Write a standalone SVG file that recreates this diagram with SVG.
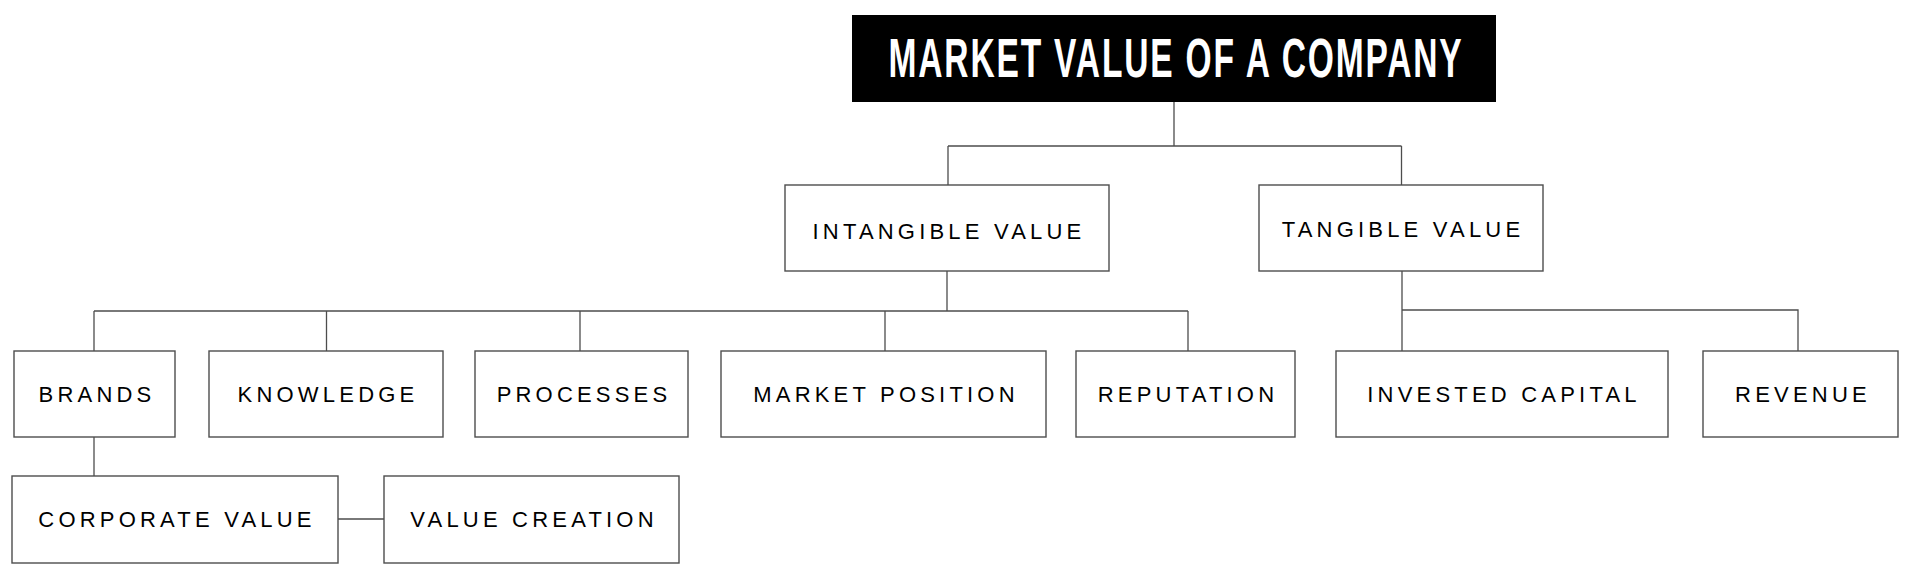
<svg xmlns="http://www.w3.org/2000/svg" width="1920" height="570" viewBox="0 0 1920 570">
<style>
.box{fill:#fff;stroke:#4d4d4d;stroke-width:1.4}
.lbl{font-family:"Liberation Sans",Arial,sans-serif;font-size:22px;letter-spacing:4.2px;fill:#000;text-anchor:middle}
.title{font-family:"Liberation Sans",Arial,sans-serif;font-weight:bold;font-size:55px;letter-spacing:3px;fill:#fff;text-anchor:middle}
.conn{fill:none;stroke:#4d4d4d;stroke-width:1.3}
</style>
<rect width="1920" height="570" fill="#fff"/>
<g id="connectors" class="conn">
<path d="M1174,102V146M948,146H1401.5M948,146V185M1401.5,146V185"/>
<path d="M947,271V311M94,311H1188M94,311V351M326.5,311V351M580,311V351M885,311V351M1188,311V351"/>
<path d="M1402,271V351M1402,310H1798V351"/>
<path d="M94,437V476"/>
<path d="M338,519H384"/>
</g>
<g id="node-title">
<rect x="852" y="15" width="644" height="87" fill="#000"/>
<text class="title" transform="translate(1176,77) scale(0.61,1)" x="0" y="0">MARKET VALUE OF A COMPANY</text>
</g>
<g id="node-intangible">
<rect class="box" x="785" y="185" width="324" height="86"/>
<text class="lbl" x="949" y="239">INTANGIBLE VALUE</text>
</g>
<g id="node-tangible">
<rect class="box" x="1259" y="185" width="284" height="86"/>
<text class="lbl" x="1403" y="237">TANGIBLE VALUE</text>
</g>
<g id="node-brands">
<rect class="box" x="14" y="351" width="161" height="86"/>
<text class="lbl" x="97" y="402">BRANDS</text>
</g>
<g id="node-knowledge">
<rect class="box" x="209" y="351" width="234" height="86"/>
<text class="lbl" x="328" y="402">KNOWLEDGE</text>
</g>
<g id="node-processes">
<rect class="box" x="475" y="351" width="213" height="86"/>
<text class="lbl" x="584" y="402">PROCESSES</text>
</g>
<g id="node-market-position">
<rect class="box" x="721" y="351" width="325" height="86"/>
<text class="lbl" x="886" y="402">MARKET POSITION</text>
</g>
<g id="node-reputation">
<rect class="box" x="1076" y="351" width="219" height="86"/>
<text class="lbl" x="1188" y="402">REPUTATION</text>
</g>
<g id="node-invested-capital">
<rect class="box" x="1336" y="351" width="332" height="86"/>
<text class="lbl" x="1504" y="402">INVESTED CAPITAL</text>
</g>
<g id="node-revenue">
<rect class="box" x="1703" y="351" width="195" height="86"/>
<text class="lbl" x="1803" y="402">REVENUE</text>
</g>
<g id="node-corporate-value">
<rect class="box" x="12" y="476" width="326" height="87"/>
<text class="lbl" x="177" y="527">CORPORATE VALUE</text>
</g>
<g id="node-value-creation">
<rect class="box" x="384" y="476" width="295" height="87"/>
<text class="lbl" x="534" y="527">VALUE CREATION</text>
</g>
</svg>
